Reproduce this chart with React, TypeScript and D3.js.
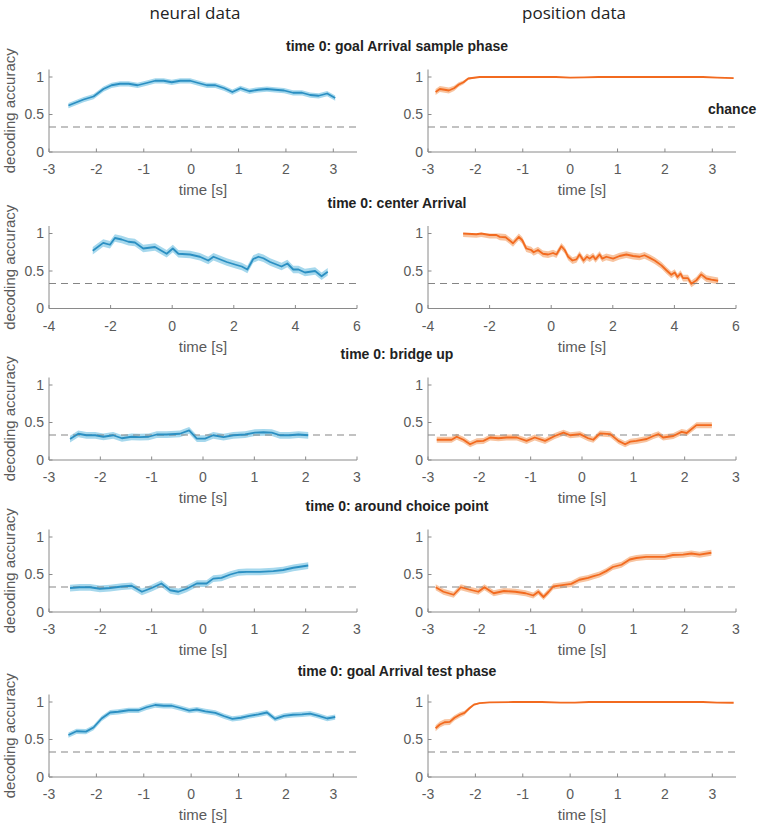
import * as d3 from 'd3';

type Pt = [number, number];

// column headers and row titles
const columnTitles = ['neural data', 'position data'];
const rowTitles = [
  'time 0: goal Arrival sample phase',
  'time 0: center Arrival',
  'time 0: bridge up',
  'time 0: around choice point',
  'time 0: goal Arrival test phase',
];
const yTicks = [0, 0.5, 1];
const chance = 1 / 3;

// [time, mean decoding accuracy]
const sampleNeural: Pt[] = [
  [-2.59, 0.62], [-2.27, 0.7], [-2.06, 0.74], [-1.85, 0.84], [-1.68, 0.89], [-1.5, 0.91],
  [-1.32, 0.91], [-1.13, 0.89], [-0.94, 0.92], [-0.76, 0.95], [-0.58, 0.95], [-0.41, 0.93],
  [-0.23, 0.95], [-0.02, 0.95], [0.15, 0.92], [0.33, 0.89], [0.51, 0.89], [0.7, 0.85],
  [0.87, 0.8], [1.04, 0.85], [1.23, 0.81], [1.42, 0.83], [1.6, 0.84], [1.77, 0.83],
  [1.96, 0.82], [2.15, 0.79], [2.34, 0.79], [2.51, 0.76], [2.69, 0.75], [2.87, 0.78], [3.04, 0.72],
];
const samplePosition: Pt[] = [
  [-2.84, 0.8], [-2.75, 0.84], [-2.65, 0.83], [-2.56, 0.82], [-2.45, 0.85], [-2.35, 0.9],
  [-2.25, 0.93], [-2.15, 0.98], [-2.03, 0.99], [-1.91, 1.0], [-1.4, 1.0], [-0.8, 1.0],
  [-0.3, 1.0], [0.0, 0.993], [0.3, 0.995], [0.6, 1.0], [1.2, 1.0], [2.0, 1.0], [2.8, 1.0],
  [3.1, 0.993], [3.45, 0.985],
];
const samplePositionSem = [
  0.04, 0.04, 0.04, 0.04, 0.035, 0.03, 0.025, 0.015, 0.01, 0.006, 0.004, 0.004,
  0.004, 0.005, 0.005, 0.004, 0.004, 0.004, 0.004, 0.005, 0.006,
];

const centerNeural: Pt[] = [
  [-2.58, 0.77], [-2.24, 0.875], [-2.02, 0.85], [-1.86, 0.94], [-1.64, 0.92], [-1.42, 0.89],
  [-1.21, 0.88], [-0.94, 0.8], [-0.56, 0.82], [-0.18, 0.73], [0.02, 0.8], [0.2, 0.73],
  [0.58, 0.72], [0.9, 0.69], [1.17, 0.64], [1.34, 0.69], [1.77, 0.62], [2.09, 0.58],
  [2.26, 0.56], [2.44, 0.52], [2.63, 0.66], [2.8, 0.69], [2.96, 0.67], [3.18, 0.62],
  [3.55, 0.56], [3.74, 0.6], [3.93, 0.52], [4.1, 0.52], [4.31, 0.48], [4.64, 0.5],
  [4.85, 0.43], [5.05, 0.49],
];
const centerPosition: Pt[] = [
  [-2.86, 1.0], [-2.43, 0.99], [-2.27, 1.0], [-2.0, 0.98], [-1.78, 0.98], [-1.67, 0.955],
  [-1.48, 0.95], [-1.24, 0.87], [-1.05, 0.955], [-0.94, 0.91], [-0.81, 0.8], [-0.65, 0.78],
  [-0.57, 0.75], [-0.43, 0.78], [-0.27, 0.73], [-0.1, 0.72], [0.06, 0.74], [0.17, 0.72],
  [0.33, 0.83], [0.44, 0.78], [0.55, 0.69], [0.69, 0.64], [0.82, 0.655], [0.92, 0.72],
  [1.05, 0.64], [1.16, 0.69], [1.25, 0.665], [1.36, 0.7], [1.44, 0.655], [1.57, 0.72],
  [1.66, 0.665], [1.79, 0.69], [2.01, 0.665], [2.22, 0.7], [2.44, 0.72], [2.66, 0.7],
  [2.87, 0.69], [3.03, 0.71], [3.2, 0.675], [3.36, 0.64], [3.58, 0.575], [3.74, 0.51],
  [3.9, 0.45], [4.01, 0.48], [4.1, 0.42], [4.2, 0.465], [4.28, 0.405], [4.44, 0.405],
  [4.55, 0.33], [4.71, 0.375], [4.87, 0.455], [5.04, 0.4], [5.2, 0.385], [5.42, 0.37],
];

const bridgeNeural: Pt[] = [
  [-2.59, 0.28], [-2.43, 0.35], [-2.27, 0.33], [-2.1, 0.33], [-1.94, 0.31], [-1.75, 0.33],
  [-1.58, 0.29], [-1.39, 0.31], [-1.23, 0.305], [-1.06, 0.31], [-0.9, 0.34], [-0.71, 0.34],
  [-0.45, 0.35], [-0.27, 0.395], [-0.12, 0.285], [0.04, 0.285], [0.2, 0.33], [0.4, 0.305],
  [0.59, 0.33], [0.82, 0.34], [1.01, 0.365], [1.18, 0.37], [1.34, 0.365], [1.5, 0.33],
  [1.69, 0.33], [1.86, 0.34], [2.05, 0.33],
];
const bridgePosition: Pt[] = [
  [-2.83, 0.27], [-2.64, 0.27], [-2.54, 0.27], [-2.44, 0.31], [-2.31, 0.27], [-2.18, 0.21],
  [-2.05, 0.25], [-1.92, 0.255], [-1.79, 0.3], [-1.63, 0.29], [-1.47, 0.3], [-1.27, 0.3],
  [-1.08, 0.255], [-0.92, 0.3], [-0.72, 0.255], [-0.53, 0.32], [-0.36, 0.365], [-0.23, 0.33],
  [-0.04, 0.345], [0.12, 0.29], [0.22, 0.27], [0.35, 0.355], [0.55, 0.345], [0.71, 0.255],
  [0.84, 0.21], [0.94, 0.245], [1.06, 0.255], [1.26, 0.28], [1.39, 0.32], [1.49, 0.345],
  [1.58, 0.3], [1.78, 0.32], [1.94, 0.375], [2.04, 0.36], [2.23, 0.465], [2.53, 0.465],
];

const choiceNeural: Pt[] = [
  [-2.59, 0.32], [-2.4, 0.33], [-2.2, 0.33], [-2.01, 0.31], [-1.81, 0.32], [-1.58, 0.34],
  [-1.39, 0.35], [-1.19, 0.27], [-1.0, 0.32], [-0.81, 0.38], [-0.64, 0.29], [-0.48, 0.27],
  [-0.32, 0.31], [-0.12, 0.38], [0.07, 0.38], [0.2, 0.445], [0.36, 0.455], [0.53, 0.5],
  [0.69, 0.53], [0.85, 0.535], [1.11, 0.535], [1.37, 0.545], [1.56, 0.56], [1.76, 0.59],
  [2.05, 0.62],
];
const choicePosition: Pt[] = [
  [-2.85, 0.33], [-2.7, 0.27], [-2.5, 0.23], [-2.36, 0.33], [-2.2, 0.3], [-2.02, 0.27],
  [-1.9, 0.33], [-1.72, 0.25], [-1.52, 0.28], [-1.3, 0.27], [-1.1, 0.25], [-0.95, 0.22],
  [-0.85, 0.27], [-0.75, 0.2], [-0.65, 0.27], [-0.56, 0.34], [-0.42, 0.355], [-0.21, 0.375],
  [-0.05, 0.43], [0.12, 0.455], [0.21, 0.475], [0.34, 0.5], [0.47, 0.545], [0.6, 0.6],
  [0.77, 0.63], [0.93, 0.7], [1.06, 0.72], [1.25, 0.735], [1.45, 0.735], [1.61, 0.735],
  [1.77, 0.76], [1.97, 0.765], [2.13, 0.78], [2.29, 0.765], [2.52, 0.79],
];

const testNeural: Pt[] = [
  [-2.59, 0.56], [-2.42, 0.61], [-2.22, 0.605], [-2.06, 0.66], [-1.89, 0.78], [-1.71, 0.86],
  [-1.54, 0.87], [-1.32, 0.89], [-1.11, 0.89], [-0.94, 0.93], [-0.76, 0.96], [-0.58, 0.95],
  [-0.41, 0.95], [-0.23, 0.92], [-0.04, 0.885], [0.12, 0.9], [0.3, 0.875], [0.51, 0.855],
  [0.7, 0.81], [0.87, 0.775], [1.05, 0.79], [1.23, 0.815], [1.42, 0.835], [1.6, 0.86],
  [1.77, 0.775], [1.96, 0.815], [2.15, 0.83], [2.34, 0.835], [2.51, 0.845], [2.69, 0.815],
  [2.87, 0.78], [3.04, 0.8],
];
const testPosition: Pt[] = [
  [-2.84, 0.65], [-2.75, 0.7], [-2.65, 0.73], [-2.54, 0.735], [-2.44, 0.79], [-2.33, 0.83],
  [-2.23, 0.855], [-2.12, 0.92], [-2.03, 0.965], [-1.91, 0.985], [-1.7, 0.995], [-1.2, 1.0],
  [-0.6, 1.0], [-0.2, 0.993], [0.1, 0.993], [0.4, 1.0], [1.0, 1.0], [2.0, 1.0], [2.8, 1.0],
  [3.1, 0.993], [3.45, 0.99],
];
const testPositionSem = [
  0.04, 0.04, 0.04, 0.04, 0.035, 0.035, 0.03, 0.02, 0.014, 0.008, 0.005, 0.004,
  0.004, 0.005, 0.005, 0.004, 0.004, 0.004, 0.004, 0.005, 0.005,
];

// per-row axis settings
const rowBases = [152, 308.5, 460, 612, 777];
const rowXDomains: [number, number][] = [[-3, 3.5], [-4, 6], [-3, 3], [-3, 3], [-3, 3.5]];
const rowXTicks = [
  [-3, -2, -1, 0, 1, 2, 3],
  [-4, -2, 0, 2, 4, 6],
  [-3, -2, -1, 0, 1, 2, 3],
  [-3, -2, -1, 0, 1, 2, 3],
  [-3, -2, -1, 0, 1, 2, 3],
];
const neuralSeries = [sampleNeural, centerNeural, bridgeNeural, choiceNeural, testNeural];
const neuralSem = [0.035, 0.05, 0.045, 0.045, 0.035];
const positionSeries = [samplePosition, centerPosition, bridgePosition, choicePosition, testPosition];
const positionSem: (number | number[])[] = [samplePositionSem, 0.045, 0.04, 0.04, testPositionSem];

const W = 765;
const H = 825;
const colRanges: [number, number][] = [[49, 357], [428, 736]];
const plotH = 82.5;
const axisColor = '#8a8a8a';
const textColor = '#5a5a5a';
const font = '"Liberation Sans", Arial, Helvetica, sans-serif';

const colors = [
  { line: '#2b8fc2', band: '#a6d8ed' },
  { line: '#f26a1f', band: '#f8c4a0' },
];

interface PanelProps {
  range: [number, number];
  base: number;
  xDomain: [number, number];
  xTicks: number[];
  data: Pt[];
  sem: number | number[];
  color: { line: string; band: string };
  yLabel: boolean;
  chanceLabel: boolean;
}

function Panel({ range, base, xDomain, xTicks, data, sem, color, yLabel, chanceLabel }: PanelProps) {
  const x = d3.scaleLinear().domain(xDomain).range(range);
  const y = d3.scaleLinear().domain([0, 1.1]).range([base, base - plotH]);
  const semAt = (i: number) => (Array.isArray(sem) ? sem[i] : sem);

  const area = d3.area<Pt>()
    .x(d => x(d[0]))
    .y0((d, i) => y(d[1] - semAt(i)))
    .y1((d, i) => y(Math.min(d[1] + semAt(i), 1.0)));
  const line = d3.line<Pt>().x(d => x(d[0])).y(d => y(d[1]));

  const [x0, x1] = range;
  const cx = (x0 + x1) / 2;

  return (
    <g>
      <path d={area(data) ?? ''} fill={color.band} stroke="none" />
      <line x1={x0} x2={x1} y1={y(chance)} y2={y(chance)} stroke="#858585" strokeWidth={1.2} strokeDasharray="7,5" />
      <path d={line(data) ?? ''} fill="none" stroke={color.line} strokeWidth={1.8} strokeLinejoin="round" />

      {/* axes */}
      <line x1={x0} x2={x0} y1={y(0)} y2={y(1.1)} stroke={axisColor} strokeWidth={1} />
      <line x1={x0} x2={x1} y1={y(0)} y2={y(0)} stroke={axisColor} strokeWidth={1} />
      {yTicks.map(t => (
        <g key={`y${t}`}>
          <line x1={x0} x2={x0 + 3.5} y1={y(t)} y2={y(t)} stroke={axisColor} />
          <text x={x0 - 5} y={y(t)} dy="0.35em" textAnchor="end" fontSize={14} fill={textColor} fontFamily={font}>
            {String(t)}
          </text>
        </g>
      ))}
      {xTicks.map(t => (
        <g key={`x${t}`}>
          <line x1={x(t)} x2={x(t)} y1={y(0)} y2={y(0) - 3.5} stroke={axisColor} />
          <text x={x(t)} y={y(0) + 22} textAnchor="middle" fontSize={14} fill={textColor} fontFamily={font}>
            {String(t)}
          </text>
        </g>
      ))}
      <text x={cx} y={y(0) + 43} textAnchor="middle" fontSize={15} fill={textColor} fontFamily={font}>
        time [s]
      </text>
      {yLabel && (
        <text
          transform={`translate(15,${base - plotH / 2}) rotate(-90)`}
          textAnchor="middle"
          fontSize={15}
          fill={textColor}
          fontFamily={font}
        >
          decoding accuracy
        </text>
      )}
      {chanceLabel && (
        <text x={708} y={114} fontSize={14} fontWeight="bold" fill="#222" fontFamily={font}>
          chance
        </text>
      )}
    </g>
  );
}

export default function App() {
  return (
    <svg
      width={W}
      height={H}
      viewBox={`0 0 ${W} ${H}`}
      style={{ position: 'absolute', left: 0, top: 0, background: '#fff' }}
    >
      <rect width={W} height={H} fill="#fff" />
      {columnTitles.map((t, i) => (
        <text
          key={t}
          x={(colRanges[i][0] + colRanges[i][1]) / 2 - 8}
          y={19}
          textAnchor="middle"
          fontSize={17}
          fill="#222"
          fontFamily='"Open Sans", "Noto Sans", sans-serif'
        >
          {t}
        </text>
      ))}
      {rowTitles.map((title, r) => (
        <g key={title}>
          <text
            x={397}
            y={rowBases[r] - 101}
            textAnchor="middle"
            fontSize={14}
            fontWeight="bold"
            fill="#222"
            fontFamily={font}
          >
            {title}
          </text>
          <Panel
            range={colRanges[0]}
            base={rowBases[r]}
            xDomain={rowXDomains[r]}
            xTicks={rowXTicks[r]}
            data={neuralSeries[r]}
            sem={neuralSem[r]}
            color={colors[0]}
            yLabel
            chanceLabel={false}
          />
          <Panel
            range={colRanges[1]}
            base={rowBases[r]}
            xDomain={rowXDomains[r]}
            xTicks={rowXTicks[r]}
            data={positionSeries[r]}
            sem={positionSem[r]}
            color={colors[1]}
            yLabel={false}
            chanceLabel={r === 0}
          />
        </g>
      ))}
    </svg>
  );
}
